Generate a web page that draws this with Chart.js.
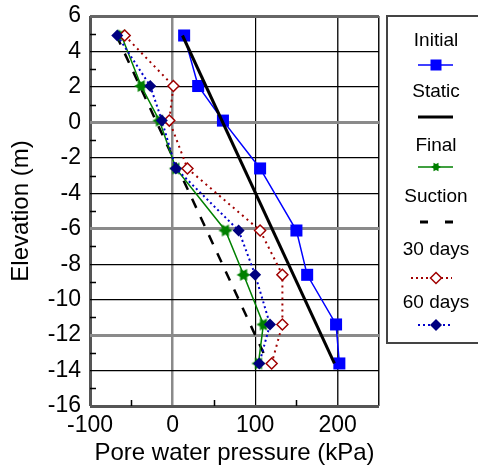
<!DOCTYPE html>
<html>
<head>
<meta charset="utf-8">
<script src="https://cdn.jsdelivr.net/npm/chart.js@4.4.1/dist/chart.umd.min.js"></script>
<style>
  html, body { margin: 0; padding: 0; background: #fff; }
  #wrap { width: 478px; height: 471px; position: relative; }
</style>
</head>
<body>
<div id="wrap"><canvas id="porePressure" width="478" height="471"></canvas></div>
<script>
// elevations (m) shared by the measured profiles
const elevations = [4.9, 2.05, 0.1, -2.6, -6.1, -8.6, -11.4, -13.6];

// pore water pressure (kPa) per profile
const initialKPa = [14, 31, 61, 106, 150, 163, 198, 202];
const finalKPa   = [-62, -38, -16, 4, 64, 86, 110, 104];
const days30KPa  = [-58, 1, -4, 18, 106, 133, 133, 120];
const days60KPa  = [-67, -27, -13, 4, 80, 100, 118, 105];

// straight reference lines (two end points each)
const staticElev  = [4.9, -13.6];
const staticKPa   = [12, 196];
const suctionElev = [4.9, -13.6];
const suctionKPa  = [-68, 116];

const seriesNames = ['Initial', 'Static', 'Final', 'Suction', '30 days', '60 days'];

const fontFam = '"Liberation Sans", Arial, sans-serif';

const toPoints = (xs, ys) => xs.map((x, i) => ({ x: x, y: ys[i] }));

// 6 pointed star for the "Final" markers
function makeStar(r, color) {
    const c = document.createElement('canvas');
    const s = Math.ceil(r * 2 + 2);
    c.width = s; c.height = s;
    const g = c.getContext('2d');
    g.fillStyle = color;
    g.beginPath();
    for (let i = 0; i < 12; i++) {
        const a = i * Math.PI / 6;
        const rr = (i % 2 === 0) ? r : r * 0.58;
        const px = s / 2 + Math.cos(a) * rr;
        const py = s / 2 + Math.sin(a) * rr;
        if (i === 0) g.moveTo(px, py); else g.lineTo(px, py);
    }
    g.closePath();
    g.fill();
    return c;
}
const starBig = makeStar(7, '#008000');

// pequeñas marcas interiores (minor ticks)
const minorTicks = {
    id: 'minorTicks',
    beforeDatasetsDraw(chart) {
        const { ctx, chartArea: a, scales: { x, y } } = chart;
        ctx.save();
        ctx.strokeStyle = '#000';
        ctx.lineWidth = 1.5;
        ctx.beginPath();
        for (let v = -15; v <= 5; v += 2) {
            const py = Math.round(y.getPixelForValue(v)) + 0.5;
            ctx.moveTo(a.left, py); ctx.lineTo(a.left + 6, py);
        }
        [-50, 50, 150].forEach(v => {
            const px = Math.round(x.getPixelForValue(v)) + 0.5;
            ctx.moveTo(px, a.bottom); ctx.lineTo(px, a.bottom - 6);
        });
        ctx.stroke();
        ctx.restore();
    }
};

// leyenda a la derecha: texto centrado encima de cada muestra
const sideLegend = {
    id: 'sideLegend',
    afterDraw(chart) {
        const ctx = chart.ctx;
        const cx = 436;
        const textY = [41, 92, 146, 197, 250, 303];
        const sampY = [65, 117, 167, 222, 278, 325];
        ctx.save();
        ctx.strokeStyle = '#444';
        ctx.lineWidth = 2;
        ctx.strokeRect(387, 16, 120, 327);

        ctx.fillStyle = '#000';
        ctx.font = '19px ' + fontFam;
        ctx.textAlign = 'center';
        ctx.textBaseline = 'middle';
        seriesNames.forEach((n, i) => ctx.fillText(n, cx, textY[i]));

        const line = (y, color, w, dash, x0, x1) => {
            ctx.beginPath();
            ctx.strokeStyle = color;
            ctx.lineWidth = w;
            ctx.setLineDash(dash);
            ctx.moveTo(x0, y); ctx.lineTo(x1, y);
            ctx.stroke();
            ctx.setLineDash([]);
        };
        const diamond = (y, r, fill, stroke) => {
            ctx.beginPath();
            ctx.moveTo(cx, y - r); ctx.lineTo(cx + r, y); ctx.lineTo(cx, y + r); ctx.lineTo(cx - r, y);
            ctx.closePath();
            if (fill) { ctx.fillStyle = fill; ctx.fill(); }
            if (stroke) { ctx.strokeStyle = stroke; ctx.lineWidth = 1.5; ctx.stroke(); }
        };

        // Initial
        line(sampY[0], '#0000FF', 1.5, [], 418, 453);
        ctx.fillStyle = '#0000FF';
        ctx.fillRect(cx - 5.5, sampY[0] - 5.5, 11, 11);
        // Static
        line(sampY[1], '#000', 3, [], 418, 453);
        // Final
        line(sampY[2], '#008000', 1.5, [], 418, 453);
        ctx.drawImage(makeStar(5, '#008000'), cx - 6, sampY[2] - 6);
        // Suction
        line(sampY[3], '#000', 3, [8, 17], 420, 453);
        // 30 days
        line(sampY[4], '#A00000', 2, [2, 3], 411, 452);
        diamond(sampY[4], 5.5, '#fff', '#A00000');
        // 60 days
        line(sampY[5], '#0000CC', 2, [2, 3], 418, 453);
        diamond(sampY[5], 6, '#000080', null);
        ctx.restore();
    }
};

const xGrid = {
    '-100': ['#555', 3], '0': ['#8a8a8a', 2.5], '100': ['#000', 1.2],
    '200': ['#222', 1.5], '250': ['#111', 1.5]
};
const yGridColor = v => {
    if (v === 6) return ['#666', 3];
    if (v === 0 || v === -6 || v === -12) return ['#8a8a8a', 3];
    if (v === -16) return ['#555', 3];
    return ['#000', 1.2];
};

new Chart(document.getElementById('porePressure'), {
    type: 'scatter',
    data: {
        datasets: [
            {
                label: seriesNames[0],
                data: toPoints(initialKPa, elevations),
                showLine: true,
                borderColor: '#0000FF',
                backgroundColor: '#0000FF',
                borderWidth: 1.5,
                pointStyle: 'rect',
                pointRadius: 8.5,
                pointBorderWidth: 0,
                order: 5
            },
            {
                label: seriesNames[1],
                data: toPoints(staticKPa, staticElev),
                showLine: true,
                borderColor: '#000',
                borderWidth: 3,
                pointRadius: 0,
                order: 4
            },
            {
                label: seriesNames[2],
                data: toPoints(finalKPa, elevations),
                showLine: true,
                borderColor: '#008000',
                backgroundColor: '#008000',
                borderWidth: 1.5,
                pointStyle: starBig,
                order: 2
            },
            {
                label: seriesNames[3],
                data: toPoints(suctionKPa, suctionElev),
                showLine: true,
                borderColor: '#000',
                borderWidth: 2.5,
                borderDash: [10, 10],
                pointRadius: 0,
                order: 3
            },
            {
                label: seriesNames[4],
                data: toPoints(days30KPa, elevations),
                showLine: true,
                borderColor: '#A00000',
                backgroundColor: '#fff',
                borderWidth: 2,
                borderDash: [2, 4],
                pointStyle: 'rectRot',
                pointRadius: 5.5,
                pointBorderWidth: 1.5,
                pointBorderColor: '#A00000',
                order: 1
            },
            {
                label: seriesNames[5],
                data: toPoints(days60KPa, elevations),
                showLine: true,
                borderColor: '#0000CC',
                backgroundColor: '#000080',
                borderWidth: 2,
                borderDash: [2, 3],
                pointStyle: 'rectRot',
                pointRadius: 6,
                pointBorderWidth: 0,
                order: 0
            }
        ]
    },
    options: {
        responsive: false,
        animation: false,
        layout: { padding: { left: 0, top: 16, right: 99, bottom: 0 } },
        plugins: {
            legend: { display: false },
            tooltip: { enabled: false }
        },
        scales: {
            x: {
                type: 'linear',
                min: -100,
                max: 250,
                afterFit: s => { s.height = 65; },
                border: { display: false },
                grid: {
                    drawTicks: false,
                    color: c => (xGrid[String(c.tick.value)] || ['rgba(0,0,0,0)', 0])[0],
                    lineWidth: c => (xGrid[String(c.tick.value)] || ['rgba(0,0,0,0)', 0])[1]
                },
                ticks: {
                    stepSize: 50,
                    padding: 6,
                    color: '#000',
                    font: { family: fontFam, size: 23 },
                    maxRotation: 0,
                    autoSkip: false,
                    callback: v => (v % 100 === 0 ? String(v) : '')
                },
                title: {
                    display: true,
                    text: 'Pore water pressure (kPa)',
                    color: '#000',
                    font: { family: fontFam, size: 24 },
                    padding: { top: 0, bottom: 3 }
                }
            },
            y: {
                type: 'linear',
                min: -16,
                max: 6,
                afterFit: s => { s.width = 90; s.paddingTop = 0; s.paddingBottom = 0; },
                border: { display: false },
                grid: {
                    drawTicks: false,
                    color: c => yGridColor(c.tick.value)[0],
                    lineWidth: c => yGridColor(c.tick.value)[1]
                },
                ticks: {
                    stepSize: 2,
                    padding: 9,
                    color: '#000',
                    font: { family: fontFam, size: 23 },
                    autoSkip: false
                },
                title: {
                    display: true,
                    text: 'Elevation (m)',
                    color: '#000',
                    font: { family: fontFam, size: 24 },
                    padding: { top: 7, bottom: 0 }
                }
            }
        }
    },
    plugins: [minorTicks, sideLegend]
});
</script>
</body>
</html>
